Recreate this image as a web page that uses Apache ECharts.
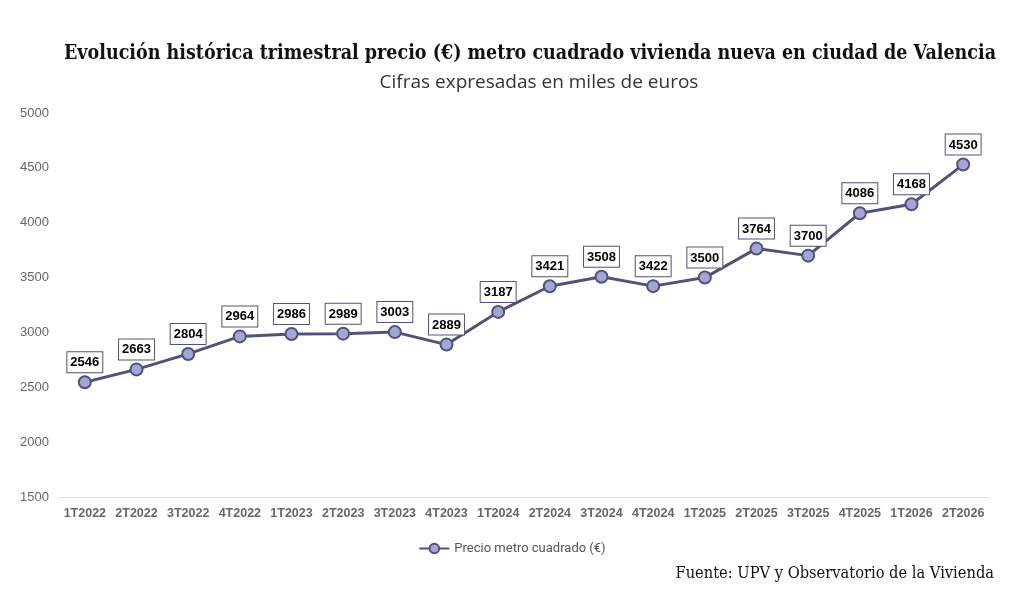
<!DOCTYPE html>
<html><head><meta charset="utf-8">
<script src="https://cdn.jsdelivr.net/npm/echarts@6/dist/echarts.min.js"></script>
<style>html,body{margin:0;padding:0;background:#fff}#c{width:1024px;height:599px}</style>
</head><body><div id="c"></div>
<script>
const categories = ['1T2022','2T2022','3T2022','4T2022','1T2023','2T2023','3T2023','4T2023','1T2024','2T2024','3T2024','4T2024','1T2025','2T2025','3T2025','4T2025','1T2026','2T2026'];
const precio = [2546,2663,2804,2964,2986,2989,3003,2889,3187,3421,3508,3422,3500,3764,3700,4086,4168,4530];
const yTicks = {min:1500, max:5000, interval:500};
const seriesName = 'Precio metro cuadrado (€)';
const titleText = 'Evolución histórica trimestral precio (€) metro cuadrado vivienda nueva en ciudad de Valencia';
const subtitleText = 'Cifras expresadas en miles de euros';
const sourceText = 'Fuente: UPV y Observatorio de la Vivienda';

const chart = echarts.init(document.getElementById('c'));
chart.setOption({
  backgroundColor:'#fff',
  animation:false,
  title:[
    {text:titleText, left:525, top:39, textAlign:'center',
     textStyle:{fontFamily:'DejaVu Serif Condensed, DejaVu Serif, serif', fontWeight:'bold', fontSize:19.5, color:'#111'}},
    {text:subtitleText, left:534, top:68, textAlign:'center',
     textStyle:{fontFamily:'Open Sans, sans-serif', fontWeight:'normal', fontSize:19, color:'#333'}},
    {text:sourceText, right:25, top:561,
     textStyle:{fontFamily:'DejaVu Serif Condensed, DejaVu Serif, serif', fontWeight:'normal', fontSize:16.3, color:'#111'}}
  ],
  legend:{data:[seriesName], top:537, left:'center', itemWidth:30, itemHeight:12, itemGap:4,
    textStyle:{fontFamily:'Roboto, sans-serif', fontSize:13, color:'#555'}},
  grid:{left:59, right:35, top:113, bottom:102},
  xAxis:{type:'category', data:categories, boundaryGap:true,
    axisLine:{lineStyle:{color:'#d9d9d9'}}, axisTick:{show:false},
    axisLabel:{interval:0, color:'#666', fontWeight:'bold', fontFamily:'Liberation Sans, Arial, sans-serif', fontSize:12.5, margin:10}},
  yAxis:{type:'value', min:yTicks.min, max:yTicks.max, interval:yTicks.interval,
    splitLine:{show:false}, axisLine:{show:false}, axisTick:{show:false},
    axisLabel:{color:'#666', fontFamily:'Liberation Sans, Arial, sans-serif', fontSize:13, align:'left', margin:39,
      formatter:v=>String(v)}},
  series:[{
    name:seriesName, type:'line', data:precio,
    symbol:'circle', symbolSize:12,
    lineStyle:{color:'#525279', width:3},
    itemStyle:{color:'#a3a6d2', borderColor:'#525279', borderWidth:2},
    label:{show:true, position:'top', distance:3, color:'#000', fontWeight:'bold',
      fontFamily:'Liberation Sans, Arial, sans-serif', fontSize:13,
      backgroundColor:'#fff', borderColor:'#525279', borderWidth:1, padding:[4,3,3,3]}
  }]
});
</script></body></html>
